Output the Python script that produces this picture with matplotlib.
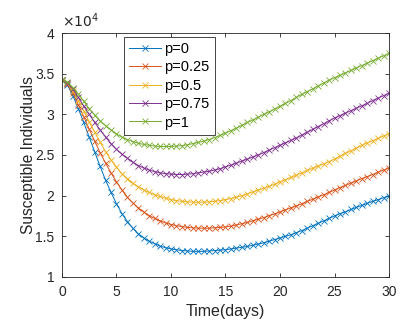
import numpy as np
import matplotlib
matplotlib.use("Agg")
import matplotlib.pyplot as plt

plt.rcParams['font.family'] = ['Liberation Sans', 'DejaVu Sans']

# time points (days)
t = np.arange(0, 30.01, 0.5)

# Susceptible individuals (units of 1e4)
s_p0 = [3.42, 3.36, 3.23, 3.07, 2.90, 2.72, 2.54, 2.36, 2.19, 2.04,
        1.90, 1.78, 1.68, 1.60, 1.53, 1.48, 1.44, 1.41, 1.38, 1.36,
        1.345, 1.335, 1.325, 1.32, 1.315, 1.315, 1.315, 1.32, 1.325, 1.33,
        1.335, 1.345, 1.355, 1.365, 1.375, 1.39, 1.405, 1.42, 1.44, 1.46,
        1.48, 1.50, 1.52, 1.545, 1.57, 1.60, 1.63, 1.66, 1.69, 1.72,
        1.75, 1.78, 1.80, 1.83, 1.855, 1.88, 1.905, 1.93, 1.95, 1.975,
        1.995]
s_p025 = [3.42, 3.37, 3.26, 3.12, 2.97, 2.82, 2.67, 2.53, 2.40, 2.28,
          2.17, 2.07, 1.98, 1.91, 1.85, 1.80, 1.755, 1.72, 1.69, 1.665,
          1.645, 1.63, 1.62, 1.61, 1.605, 1.60, 1.60, 1.60, 1.605, 1.61,
          1.615, 1.625, 1.64, 1.655, 1.67, 1.69, 1.71, 1.73, 1.755, 1.775,
          1.80, 1.825, 1.85, 1.875, 1.90, 1.93, 1.955, 1.985, 2.01, 2.04,
          2.07, 2.10, 2.125, 2.155, 2.18, 2.21, 2.235, 2.26, 2.29, 2.315,
          2.34]
s_p05 = [3.42, 3.38, 3.29, 3.17, 3.04, 2.91, 2.78, 2.66, 2.54, 2.44,
         2.35, 2.27, 2.21, 2.15, 2.11, 2.07, 2.04, 2.01, 1.99, 1.97,
         1.95, 1.94, 1.93, 1.925, 1.92, 1.92, 1.92, 1.925, 1.93, 1.94,
         1.95, 1.965, 1.98, 2.00, 2.02, 2.045, 2.07, 2.09, 2.115, 2.14,
         2.17, 2.195, 2.225, 2.25, 2.28, 2.31, 2.335, 2.365, 2.39, 2.42,
         2.45, 2.485, 2.52, 2.55, 2.585, 2.62, 2.65, 2.675, 2.705, 2.735,
         2.76]
s_p075 = [3.42, 3.39, 3.31, 3.21, 3.10, 3.00, 2.90, 2.81, 2.72, 2.64,
          2.57, 2.51, 2.46, 2.41, 2.37, 2.34, 2.315, 2.295, 2.28, 2.27,
          2.265, 2.26, 2.26, 2.265, 2.27, 2.28, 2.29, 2.30, 2.315, 2.33,
          2.355, 2.375, 2.40, 2.425, 2.45, 2.475, 2.50, 2.53, 2.56, 2.59,
          2.62, 2.65, 2.68, 2.71, 2.745, 2.78, 2.815, 2.85, 2.885, 2.92,
          2.955, 2.985, 3.015, 3.045, 3.075, 3.105, 3.135, 3.17, 3.20, 3.23,
          3.26]
s_p1 = [3.42, 3.40, 3.33, 3.25, 3.16, 3.07, 2.99, 2.92, 2.86, 2.81,
        2.76, 2.72, 2.69, 2.665, 2.645, 2.63, 2.62, 2.61, 2.605, 2.605,
        2.605, 2.61, 2.615, 2.625, 2.64, 2.655, 2.67, 2.69, 2.715, 2.74,
        2.77, 2.80, 2.83, 2.865, 2.90, 2.93, 2.965, 3.00, 3.03, 3.065,
        3.10, 3.135, 3.17, 3.21, 3.245, 3.28, 3.315, 3.35, 3.385, 3.42,
        3.45, 3.48, 3.51, 3.54, 3.57, 3.60, 3.63, 3.66, 3.69, 3.72,
        3.75]

series = [s_p0, s_p025, s_p05, s_p075, s_p1]
labels = ['p=0', 'p=0.25', 'p=0.5', 'p=0.75', 'p=1']
colors = ['#0072BD', '#D95319', '#EDB120', '#7E2F8E', '#77AC30']

axc = '#262626'
fig = plt.figure(figsize=(4.13, 3.27), dpi=100)
ax = fig.add_axes([0.150, 0.153, 0.792, 0.746])

for s, lab, c in zip(series, labels, colors):
    ax.plot(t, s, color=c, lw=0.7, marker='x', ms=4, mew=0.6, label=lab)

ax.set_xlim(0, 30)
ax.set_ylim(1, 4)
ax.set_xticks(np.arange(0, 31, 5))
ax.set_yticks(np.arange(1, 4.01, 0.5))
ax.set_yticklabels(['1', '1.5', '2', '2.5', '3', '3.5', '4'])
ax.tick_params(direction='in', top=True, right=True, length=3, width=0.6,
               colors=axc, labelsize=10, pad=5.5)
for sp in ax.spines.values():
    sp.set_color(axc)
    sp.set_linewidth(0.6)

ax.set_xlabel('Time(days)', fontsize=11.5, color=axc, labelpad=4)
ax.set_ylabel('Susceptible Individuals', fontsize=11.2, color=axc, labelpad=-1)
ax.text(0.0, 1.012, r'$\times10^{4}$', transform=ax.transAxes, fontsize=10,
        color=axc, ha='left', va='bottom')

leg = ax.legend(loc='upper left', bbox_to_anchor=(0.19, 0.984), fontsize=10.5,
                frameon=True, fancybox=False, framealpha=1,
                handlelength=2.2, handletextpad=0.2, borderpad=0.35,
                labelspacing=0.3, borderaxespad=0.0)
leg.get_frame().set_edgecolor(axc)
leg.get_frame().set_linewidth(0.6)

fig.savefig('out.png', dpi=100)
